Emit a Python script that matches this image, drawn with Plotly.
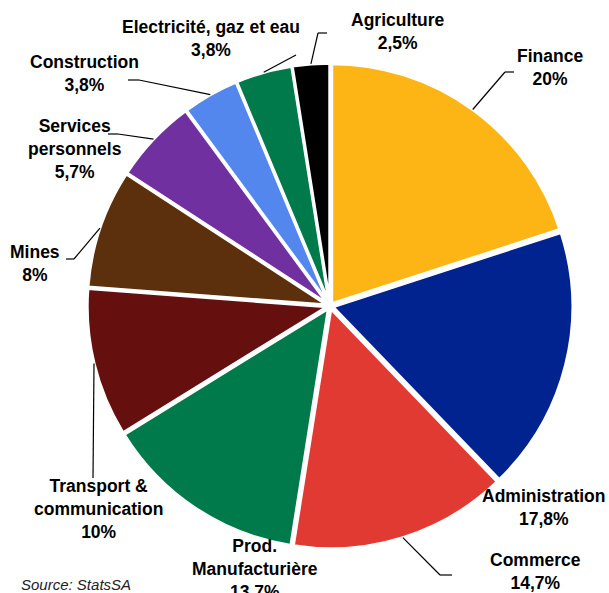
import math
import plotly.graph_objects as go

# ---- data ----
sectors = ["Finance", "Administration", "Commerce", "Prod. Manufacturière",
           "Transport & communication", "Mines", "Services personnels",
           "Construction", "Electricité, gaz et eau", "Agriculture"]
shares = [20.0, 17.8, 14.7, 13.7, 10.0, 8.0, 5.7, 3.8, 3.8, 2.5]
share_labels = ["20%", "17,8%", "14,7%", "13,7%", "10%", "8%", "5,7%", "3,8%", "3,8%", "2,5%"]
label_names = ["Finance", "Administration", "Commerce", "Prod.<br>Manufacturière",
               "Transport &<br>communication", "Mines", "Services<br>personnels",
               "Construction", "Electricité, gaz et eau", "Agriculture"]
colors = ["#FDB515", "#00238F", "#E03A33", "#017A4B", "#660F0F", "#5C300C",
          "#7030A0", "#5387EE", "#017A4B", "#000000"]

# ---- layout (pixels) ----
W, H = 609, 593
CX, CY, R = 330, 306, 240
PULL = 0.012
RD = R * (1 + PULL)
label_pos = [(550, 68), (543, 507), (535, 571), (255, 569), (98, 509),
             (35, 263), (75, 149), (84, 73), (211, 39), (398, 32)]
# leader elbows: list of points after the edge point (None = no leader)
elbows = [[(505, 72), (514, 72)], None, [(440, 575), (452, 575)], None,
          [(93, 478)], [(74, 259), (66, 259)], [(118, 134), (108, 134)],
          [(139, 80), (128, 80)], [(296, 55)], [(318, 33), (327, 33)]]

px = lambda x: x / W
py = lambda y: 1 - y / H

fig = go.Figure(go.Pie(
    labels=sectors, values=shares, sort=False, direction="clockwise", rotation=0,
    pull=[PULL] * len(shares),
    marker=dict(colors=colors, line=dict(color="white", width=3)),
    textinfo="none", hoverinfo="label+percent", showlegend=False,
    domain=dict(x=[(CX - RD) / W, (CX + RD) / W], y=[(H - CY - RD) / H, (H - CY + RD) / H]),
))

total = sum(shares)
cum = 0.0
annotations = []
shapes = []
for i, v in enumerate(shares):
    mid = (cum + v / 2) / total * 2 * math.pi
    cum += v
    re = RD
    ex, ey = CX + re * math.sin(mid), CY - re * math.cos(mid)
    lx, ly = label_pos[i]
    annotations.append(dict(
        x=px(lx), y=py(ly), xref="paper", yref="paper", showarrow=False,
        text=f"<b>{label_names[i]}<br>{share_labels[i]}</b>", align="center",
        xanchor="center", yanchor="middle",
        font=dict(family="Liberation Sans, Arial, sans-serif", size=17.5, color="black")))
    if elbows[i]:
        pts = [(ex, ey)] + elbows[i]
        for (x0, y0), (x1, y1) in zip(pts[:-1], pts[1:]):
            shapes.append(dict(type="line", xref="paper", yref="paper",
                               x0=px(x0), y0=py(y0), x1=px(x1), y1=py(y1),
                               line=dict(color="black", width=1.2)))

annotations.append(dict(x=px(19), y=py(584), xref="paper", yref="paper", showarrow=False,
                        text="<i>Source: StatsSA</i>", xanchor="left", yanchor="middle",
                        font=dict(family="Liberation Sans, Arial, sans-serif", size=15, color="#222")))

fig.update_layout(width=W, height=H, margin=dict(l=0, r=0, t=0, b=0),
                  paper_bgcolor="white", plot_bgcolor="white",
                  annotations=annotations, shapes=shapes)
fig.write_html("out.html")
